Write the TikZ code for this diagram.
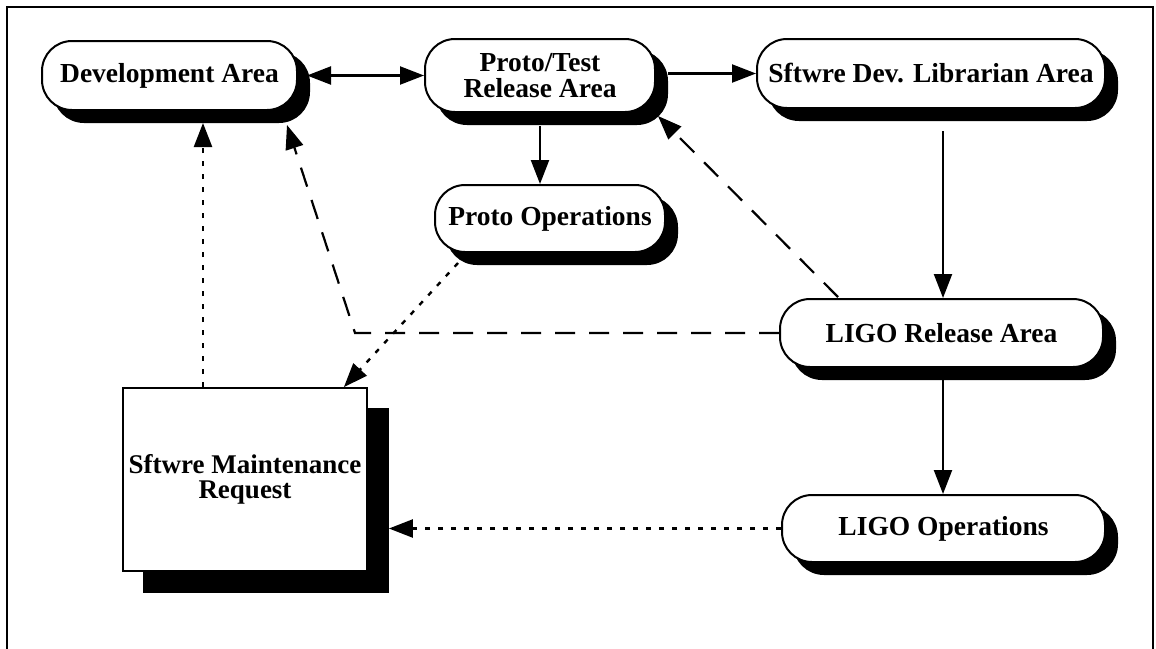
\documentclass[tikz,border=0pt]{standalone}
\usepackage{fontspec}
\setmainfont{Liberation Serif}
\usetikzlibrary{arrows.meta,shadows,calc}
\tikzset{bigtri/.tip={Triangle[length=24pt,width=18pt]}}
\begin{document}
\begin{tikzpicture}[x=1pt,y=-1pt,
  line width=2.2pt,
  pill/.style={draw=black, fill=white, rounded corners=30pt, line width=2pt,
    font=\fontsize{27.5}{26}\selectfont\bfseries, align=center, inner sep=0pt,
    general shadow={fill=black, draw=black, shadow xshift=12pt, shadow yshift=-12pt}},
  sq/.style={draw=black, fill=white, line width=1.8pt,
    font=\fontsize{27}{25}\selectfont\bfseries, align=center, inner sep=0pt,
    general shadow={fill=black, draw=black, shadow xshift=21pt, shadow yshift=-21pt}},
  solidarr/.style={-bigtri, line width=2.2pt},
  dashline/.style={-bigtri, line width=2.2pt, dash pattern=on 20pt off 14pt},
  dotline/.style={-bigtri, line width=2.4pt, dash pattern=on 5pt off 8pt},
]
\useasboundingbox (0,0) rectangle (1156,648);
\draw[line width=1.6pt] (7,660) -- (7,7) -- (1153,7) -- (1153,660);

\node[pill, minimum width=255pt, minimum height=69pt] (dev) at (169.5,75.5) {Development Area};
\node[pill, minimum width=230pt, minimum height=73pt] (proto) at (540,75.5) {Proto/Test\\Release Area};
\node[pill, minimum width=348pt, minimum height=69pt] (lib) at (931,73.5) {Sftwre Dev. Librarian Area};
\node[pill, minimum width=230pt, minimum height=67pt] (pops) at (550,218.5) {Proto Operations};
\node[pill, minimum width=323pt, minimum height=68pt] (rel) at (941.5,333) {LIGO Release Area};
\node[pill, minimum width=323pt, minimum height=67pt] (ops) at (943.5,528.5) {LIGO Operations};
\node[sq, minimum width=244pt, minimum height=183pt] (req) at (245,479.5) {Sftwre Maintenance\\Request};

% helper coordinates
\coordinate (devR) at ($(dev.east)+(9,0)$);
\coordinate (protoR) at ($(proto.east)+(12,0)$);
\coordinate (protoB) at ($(proto.south)+(0,13)$);
\coordinate (libB) at ($(lib.south)+(12,22)$);
\coordinate (relB) at ($(rel.south)+(1.5,12)$);
\coordinate (reqR) at ($(req.east)+(21,0)$);
\coordinate (reqtop) at ($(req.north)+(-42,0)$);
\coordinate (devshb) at ($(dev.south)+(0,12)$);
\coordinate (popsout) at ($(pops.south)+(-92,10)$);
\coordinate (reqin) at ($(req.north east)+(-24,0)$);
\coordinate (bend) at (355,331);
\coordinate (devin) at ($(dev.south east)+(-11,14)$);
\coordinate (relout) at ($(rel.north)+(-103.5,-1)$);
\coordinate (protoin) at ($(proto.south east)+(2,3)$);

% solid connectors
\draw[bigtri-bigtri, line width=2.2pt] (devR) -- (proto.west);
\draw[solidarr] (protoR |- lib.west) -- (lib.west);
\draw[solidarr] (protoB) -- (protoB |- pops.north);
\draw[solidarr] (libB) -- (libB |- rel.north);
\draw[solidarr] (relB) -- (relB |- ops.north);

% dotted connectors
\draw[dotline] (ops.west) -- (reqR |- ops.west);
\draw[dotline] (reqtop) -- (reqtop |- devshb);
\draw[dotline] (popsout) -- (reqin);

% dashed connectors
\draw[dashline] (rel.west) -- (bend |- rel.west) -- (devin);
\draw[dashline] (relout) -- (protoin);
\end{tikzpicture}
\end{document}
